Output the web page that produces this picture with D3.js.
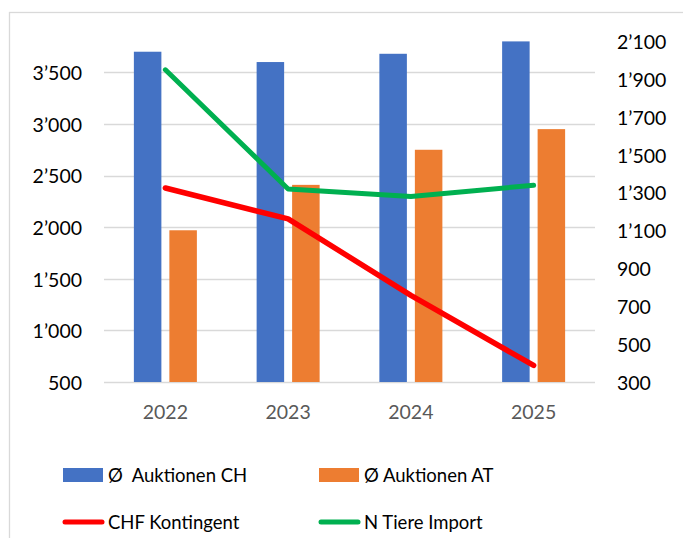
<!DOCTYPE html>
<html>
<head>
<meta charset="utf-8">
<script src="https://cdn.jsdelivr.net/npm/d3@7"></script>
<style>
  body { margin: 0; background: #fff; }
  svg { display: block; font-family: Lato, "Open Sans", sans-serif; }
  .axis text { font-family: Lato, "Open Sans", sans-serif; font-size: 19.5px; }
  .legend text { font-size: 18.5px; fill: #000; white-space: pre; }
</style>
</head>
<body>
<svg width="683" height="538"></svg>
<script>
// chart data
var years = ["2022", "2023", "2024", "2025"];
var auktionenCH = [3700, 3600, 3680, 3800];
var auktionenAT = [1970, 2410, 2750, 2950];
var kontingent = [2380, 2080, 1340, 660];
var tiereImport = [1950, 1320, 1280, 1340];
var leftTicks = [500, 1000, 1500, 2000, 2500, 3000, 3500];
var rightTicks = [300, 500, 700, 900, 1100, 1300, 1500, 1700, 1900, 2100];
var barSeries = ["Ø  Auktionen CH", "Ø Auktionen AT"];
var lineSeries = ["CHF Kontingent", "N Tiere Import"];

var svg = d3.select("svg"),
    plot = {left: 104, right: 595, top: 41.4, bottom: 382};

var fmt = d3.formatLocale({decimal: ".", thousands: "\u2019", grouping: [3], currency: ["", ""]}).format(",");

var x0 = d3.scaleBand().domain(years).range([plot.left, plot.right]),
    x1 = d3.scaleBand().domain(barSeries).range([-31.5, 31.5]).paddingInner(0.225),
    yL = d3.scaleLinear().domain([500, 3800]).range([plot.bottom, plot.top]),
    yR = d3.scaleLinear().domain([300, 2100]).range([plot.bottom, plot.top]);

var colors = {bars: ["#4472C4", "#ED7D31"], lines: ["#FF0000", "#00B050"]};

// chart frame (cut off at right and bottom)
svg.append("rect")
    .attr("x", 9.5)
    .attr("y", 12.5)
    .attr("width", 800)
    .attr("height", 700)
    .attr("fill", "none")
    .attr("stroke", "#d9d9d9")
    .attr("stroke-width", 1.3);

// gridlines
svg.append("g").selectAll("line")
  .data(leftTicks)
  .enter().append("line")
    .attr("x1", plot.left)
    .attr("x2", plot.right)
    .attr("y1", function(d) { return Math.round(yL(d)) + 0.5; })
    .attr("y2", function(d) { return Math.round(yL(d)) + 0.5; })
    .attr("stroke", "#d9d9d9")
    .attr("stroke-width", 1.3);

// bars
var rows = years.map(function(y, i) {
  return {year: y, values: [auktionenCH[i], auktionenAT[i]]};
});

var group = svg.append("g").selectAll("g")
  .data(rows)
  .enter().append("g")
    .attr("transform", function(d) { return "translate(" + (x0(d.year) + x0.bandwidth() / 2) + ",0)"; });

group.selectAll("rect")
  .data(function(d) { return d.values.map(function(v, j) { return {key: barSeries[j], value: v, idx: j}; }); })
  .enter().append("rect")
    .attr("x", function(d) { return x1(d.key); })
    .attr("y", function(d) { return yL(d.value); })
    .attr("width", x1.bandwidth())
    .attr("height", function(d) { return plot.bottom - yL(d.value); })
    .attr("fill", function(d) { return colors.bars[d.idx]; });

// lines
var cx = function(d, i) { return x0(years[i]) + x0.bandwidth() / 2; };

svg.append("path")
    .datum(kontingent)
    .attr("fill", "none")
    .attr("stroke", colors.lines[0])
    .attr("stroke-width", 5.5)
    .attr("stroke-linecap", "round")
    .attr("stroke-linejoin", "round")
    .attr("d", d3.line().x(cx).y(function(d) { return yL(d); }));

svg.append("path")
    .datum(tiereImport)
    .attr("fill", "none")
    .attr("stroke", colors.lines[1])
    .attr("stroke-width", 5)
    .attr("stroke-linecap", "round")
    .attr("stroke-linejoin", "round")
    .attr("d", d3.line().x(cx).y(function(d) { return yR(d); }));

// axes
var leftAxis = svg.append("g")
    .attr("class", "axis")
    .attr("transform", "translate(" + plot.left + ",0)")
    .call(d3.axisLeft(yL).tickValues(leftTicks).tickSize(0).tickPadding(22).tickFormat(fmt));

var rightAxis = svg.append("g")
    .attr("class", "axis")
    .attr("transform", "translate(" + plot.right + ",0)")
    .call(d3.axisRight(yR).tickValues(rightTicks).tickSize(0).tickPadding(22).tickFormat(fmt));

var bottomAxis = svg.append("g")
    .attr("class", "axis")
    .attr("transform", "translate(0," + plot.bottom + ")")
    .call(d3.axisBottom(x0).tickSize(0).tickPadding(23));

[leftAxis, rightAxis, bottomAxis].forEach(function(a) {
  a.select(".domain").remove();
  a.attr("font-family", null).attr("font-size", null);
});
leftAxis.selectAll("text").attr("fill", "#000").attr("dy", "0.37em");
rightAxis.selectAll("text").attr("fill", "#000").attr("dy", "0.37em");
bottomAxis.selectAll("text").attr("fill", "#595959").attr("dy", "0.72em");

// legend
var legendX = [63, 319];

var legend = svg.append("g").attr("class", "legend");

legend.selectAll("rect")
  .data(barSeries)
  .enter().append("rect")
    .attr("x", function(d, i) { return legendX[i]; })
    .attr("y", 468)
    .attr("width", 40)
    .attr("height", 14)
    .attr("fill", function(d, i) { return colors.bars[i]; });

legend.selectAll("text.bar")
  .data(barSeries)
  .enter().append("text")
    .attr("class", "bar")
    .attr("x", function(d, i) { return legendX[i] + 45; })
    .attr("y", 482)
    .text(function(d) { return d; });

legend.selectAll("line")
  .data(lineSeries)
  .enter().append("line")
    .attr("x1", function(d, i) { return legendX[i] + 2; })
    .attr("x2", function(d, i) { return legendX[i] + 39; })
    .attr("y1", 522)
    .attr("y2", 522)
    .attr("stroke", function(d, i) { return colors.lines[i]; })
    .attr("stroke-width", 5)
    .attr("stroke-linecap", "round");

legend.selectAll("text.line")
  .data(lineSeries)
  .enter().append("text")
    .attr("class", "line")
    .attr("x", function(d, i) { return legendX[i] + 45; })
    .attr("y", 529)
    .text(function(d) { return d; });
</script>
</body>
</html>
